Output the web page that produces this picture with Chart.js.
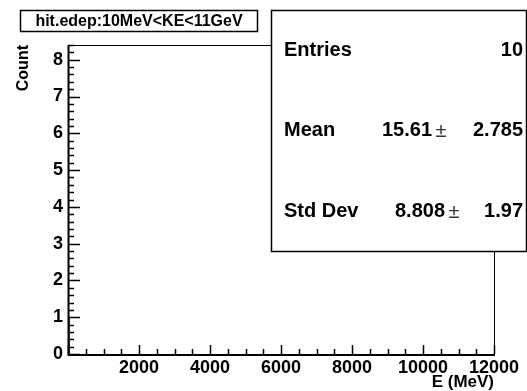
<!DOCTYPE html>
<html>
<head>
<meta charset="utf-8">
<script src="https://cdn.jsdelivr.net/npm/chart.js@4.4.0/dist/chart.umd.min.js"></script>
<style>
  html, body { margin: 0; padding: 0; background: #fff; }
  canvas { display: block; }
</style>
</head>
<body>
<canvas id="hist" width="527" height="391"></canvas>
<script>
// histogram contents (bins are tiny compared to the 0-12000 axis)
const binCenters = [5, 15, 25, 35];
const binCounts = [1, 8, 0, 1];

const xMin = 0, xMax = 12000, xMinor = 500;
const xTickValues = [0, 2000, 4000, 6000, 8000, 10000, 12000];
const yMin = 0, yMax = 8.4, yMinor = 0.2;
const yTickValues = [0, 1, 2, 3, 4, 5, 6, 7, 8];

const histTitle = 'hit.edep:10MeV<KE<11GeV';
const statLabels = ['Entries', 'Mean', 'Std Dev'];
const statValues = ['10', '15.61', '8.808'];
const statErrors = ['', '2.785', '1.97'];

const FONT = "'Liberation Sans', Arial, Helvetica, sans-serif";

// frame, inside ticks, title box and stats box, ROOT style
const rootFrame = {
    id: 'rootFrame',
    afterDraw(chart) {
        const ctx = chart.ctx;
        const a = chart.chartArea;
        const xs = chart.scales.x, ys = chart.scales.y;
        ctx.save();
        ctx.strokeStyle = '#000';

        ctx.lineWidth = 1;
        ctx.strokeRect(a.left + 0.5, a.top + 0.5, a.right - a.left, a.bottom - a.top);
        ctx.lineWidth = 2;
        ctx.beginPath();
        ctx.moveTo(a.left + 0.5, a.top);
        ctx.lineTo(a.left + 0.5, a.bottom + 1);
        ctx.lineTo(a.right + 1, a.bottom + 1);
        ctx.stroke();

        ctx.lineWidth = 1.5;
        ctx.beginPath();
        for (let v = xMin; v <= xMax + 1e-6; v += xMinor) {
            const px = Math.round(xs.getPixelForValue(v)) + 0.5;
            const len = xTickValues.includes(v) ? 9 : 5;
            ctx.moveTo(px, a.bottom);
            ctx.lineTo(px, a.bottom - len);
        }
        for (let i = 0; i * yMinor <= yMax + 1e-6; i++) {
            const v = i * yMinor;
            const py = Math.round(ys.getPixelForValue(v)) + 0.5;
            const len = (i % 5 === 0) ? 12 : 6;
            ctx.moveTo(a.left, py);
            ctx.lineTo(a.left + len, py);
        }
        ctx.stroke();

        // title box
        ctx.fillStyle = '#fff';
        ctx.fillRect(20.5, 10.5, 237, 21);
        ctx.lineWidth = 1.5;
        ctx.strokeRect(20.5, 10.5, 237, 21);
        ctx.fillStyle = '#000';
        ctx.font = 'bold 16px ' + FONT;
        ctx.textAlign = 'center';
        ctx.textBaseline = 'middle';
        ctx.fillText(histTitle, 139, 21.5);

        // stats box
        ctx.fillStyle = '#fff';
        ctx.fillRect(271.5, 10.5, 255, 241);
        ctx.strokeRect(271.5, 10.5, 255, 241);
        ctx.fillStyle = '#000';
        const rowY = [50, 130, 211];
        const pmX = [0, 441, 454];
        statLabels.forEach((lab, i) => {
            ctx.font = 'bold 20px ' + FONT;
            ctx.textAlign = 'left';
            ctx.fillText(lab, 284, rowY[i]);
            ctx.textAlign = 'right';
            if (!statErrors[i]) {
                ctx.fillText(statValues[i], 523, rowY[i]);
            } else {
                ctx.fillText(statValues[i], pmX[i] - 9, rowY[i]);
                ctx.fillText(statErrors[i], 523, rowY[i]);
                ctx.font = '20px ' + FONT;
                ctx.fillStyle = '#333';
                ctx.textAlign = 'center';
                ctx.fillText('\u00b1', pmX[i], rowY[i] + 1);
                ctx.fillStyle = '#000';
            }
        });
        ctx.restore();
    }
};

new Chart(document.getElementById('hist'), {
    type: 'bar',
    data: {
        datasets: [{
            label: 'hit.edep',
            data: binCenters.map((x, i) => ({ x: x, y: binCounts[i] })),
            backgroundColor: '#000',
            borderWidth: 0,
            barPercentage: 1,
            categoryPercentage: 1
        }]
    },
    options: {
        responsive: false,
        animation: false,
        devicePixelRatio: 1,
        layout: { padding: { left: 0, top: 45, right: 33, bottom: 0 } },
        plugins: { legend: { display: false }, tooltip: { enabled: false } },
        scales: {
            x: {
                type: 'linear',
                min: xMin,
                max: xMax,
                offset: false,
                grid: { display: false, drawTicks: false, offset: false },
                border: { display: false },
                afterBuildTicks: s => { s.ticks = xTickValues.map(v => ({ value: v })); },
                ticks: {
                    padding: 3,
                    maxRotation: 0,
                    autoSkip: false,
                    color: '#000',
                    font: { family: FONT, size: 18, weight: 'bold' },
                    callback: v => v === 0 ? '' : String(v)
                },
                title: {
                    display: true,
                    text: 'E (MeV)',
                    align: 'end',
                    color: '#000',
                    padding: { top: 0, bottom: -2 },
                    font: { family: FONT, size: 17, weight: 'bold' }
                },
                afterFit: s => { s.height = 37; }
            },
            y: {
                min: yMin,
                max: yMax,
                grid: { display: false, drawTicks: false },
                border: { display: false },
                afterBuildTicks: s => { s.ticks = yTickValues.map(v => ({ value: v })); },
                ticks: {
                    padding: 5,
                    autoSkip: false,
                    color: '#000',
                    font: { family: FONT, size: 18, weight: 'bold' },
                    callback: v => String(v)
                },
                title: {
                    display: true,
                    text: 'Count',
                    align: 'end',
                    color: '#000',
                    padding: { top: 14, bottom: 0 },
                    font: { family: FONT, size: 16, weight: 'bold' }
                },
                afterFit: s => { s.width = 68; }
            }
        }
    },
    plugins: [rootFrame]
});
</script>
</body>
</html>
